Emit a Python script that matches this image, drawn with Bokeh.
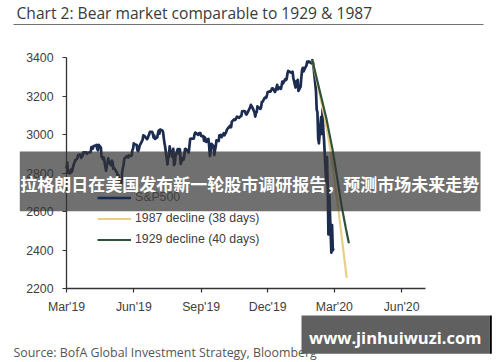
import pandas as pd
from bokeh.plotting import figure
from bokeh.models import (Range1d, FixedTicker, Legend, LegendItem, Label, BoxAnnotation,
                          DatetimeAxis, LinearAxis)
from bokeh.embed import file_html
from bokeh.resources import INLINE

# ---------------- data ----------------
title_text = "Chart 2: Bear market comparable to 1929 & 1987"
source_text = "Source: BofA Global Investment Strategy, Bloomberg"
banner_text = "拉格朗日在美国发布新一轮股市调研报告，预测市场未来走势"
watermark_text = "www.jinhuiwuzi.com"

series_names = ["S&P500", "1987 decline (38 days)", "1929 decline (40 days)"]

sp500_start = "2019-03-20"
sp500_end = "2020-03-19"
market_holidays = ["2019-04-19", "2019-05-27", "2019-07-04", "2019-09-02", "2019-11-28",
                   "2019-12-25", "2020-01-01", "2020-01-20", "2020-02-17"]
sp500_close = [
    # Mar 2019
    2824, 2855, 2801, 2798, 2818, 2805, 2815, 2834,
    # Apr
    2867, 2867, 2873, 2879, 2893, 2896, 2878, 2888, 2888, 2907, 2906, 2907, 2900, 2905,
    2908, 2934, 2927, 2926, 2940, 2943, 2946,
    # May
    2924, 2918, 2946, 2932, 2884, 2879, 2871, 2881, 2812, 2834, 2851, 2876, 2860, 2840,
    2864, 2856, 2822, 2826, 2802, 2783, 2789, 2752,
    # Jun
    2744, 2803, 2826, 2843, 2873, 2887, 2886, 2880, 2892, 2887, 2890, 2918, 2926, 2954,
    2950, 2945, 2917, 2914, 2925, 2942,
    # Jul
    2964, 2973, 2996, 2990, 2976, 2980, 2993, 3000, 3014, 3014, 3004, 2984, 2995, 2977,
    2985, 3005, 3020, 3004, 3026, 3021, 3013, 2980,
    # Aug
    2954, 2932, 2845, 2882, 2884, 2938, 2919, 2883, 2926, 2841, 2848, 2889, 2924, 2901,
    2924, 2923, 2847, 2878, 2869, 2888, 2925, 2926,
    # Sep
    2906, 2938, 2976, 2979, 2978, 2979, 3001, 3010, 3007, 2998, 3006, 3007, 3007, 2992,
    2992, 2967, 2985, 2978, 2962, 2977,
    # Oct
    2940, 2888, 2911, 2952, 2939, 2893, 2919, 2938, 2970, 2966, 2996, 2990, 2998, 2986,
    3007, 2996, 3005, 3010, 3023, 3039, 3037, 3047, 3038,
    # Nov
    3067, 3078, 3075, 3077, 3085, 3093, 3087, 3092, 3094, 3097, 3120, 3122, 3120, 3108,
    3104, 3110, 3134, 3141, 3154, 3141,
    # Dec
    3114, 3093, 3113, 3117, 3146, 3136, 3133, 3142, 3169, 3169, 3191, 3193, 3191, 3205,
    3221, 3224, 3223, 3240, 3240, 3221, 3231,
    # Jan 2020
    3258, 3235, 3246, 3237, 3253, 3275, 3265, 3288, 3283, 3289, 3317, 3330, 3321, 3322,
    3326, 3295, 3244, 3276, 3273, 3284, 3226,
    # Feb
    3249, 3298, 3335, 3346, 3328, 3352, 3358, 3379, 3374, 3380, 3370, 3386, 3373, 3338,
    3226, 3128, 3116, 2979, 2954,
    # Mar
    3090, 3003, 3130, 3024, 2972, 2747, 2882, 2741, 2481, 2711, 2386, 2529, 2398, 2409,
]

d1987_dates = ["2020-02-19", "2020-03-07", "2020-03-15", "2020-03-25", "2020-04-06"]
d1987_vals = [3386, 3087, 2915, 2629, 2255]

d1929_dates = ["2020-02-19", "2020-03-09", "2020-03-18", "2020-03-30", "2020-04-05", "2020-04-09"]
d1929_vals = [3386, 3087, 2915, 2629, 2509, 2435]

x_start, x_end = "2019-03-20", "2020-07-22"
x_tick_dates = ["2019-03-20", "2019-06-20", "2019-09-20", "2019-12-20", "2020-03-20", "2020-06-20"]
x_tick_labels = ["Mar'19", "Jun'19", "Sep'19", "Dec'19", "Mar'20", "Jun'20"]
y_ticks = [2200, 2400, 2600, 2800, 3000, 3200, 3400]
y_min, y_max = 2200, 3400

colors = ["#1c2b50", "#e9cf86", "#2e5238"]

# ---------------- layout constants (pixels) ----------------
W, H = 500, 362
PLOT_L, PLOT_R = 66.0, 424.5      # x pixels of x_start / x_end
PLOT_T, PLOT_B = 57.0, 288.0      # y pixels of y_max / y_min


def ms(d):
    return int(pd.Timestamp(d).value // 10**6)


x0, x1 = ms(x_start), ms(x_end)
kx = (x1 - x0) / (PLOT_R - PLOT_L)
ky = (y_max - y_min) / (PLOT_B - PLOT_T)
x_range = Range1d(x0 - PLOT_L * kx, x1 + (W - PLOT_R) * kx)
y_range = Range1d(y_min - (H - PLOT_B) * ky, y_max + PLOT_T * ky)

sp_dates = pd.bdate_range(sp500_start, sp500_end, freq="C", holidays=market_holidays)
n = min(len(sp_dates), len(sp500_close))
sp_dates = sp_dates[:n]
sp_vals = sp500_close[:n]

p = figure(width=W, height=H, x_range=x_range, y_range=y_range,
           x_axis_location=None, y_axis_location=None,
           output_backend="svg", toolbar_location=None, min_border=0)
p.outline_line_color = None
p.xgrid.grid_line_color = None
p.ygrid.grid_line_color = None
p.background_fill_color = "white"
p.border_fill_color = "white"

r_sp = p.line(sp_dates, sp_vals, line_color=colors[0], line_width=2.7, line_join="round")
r_87 = p.line(pd.to_datetime(d1987_dates), d1987_vals, line_color=colors[1], line_width=2.2)
r_29 = p.line(pd.to_datetime(d1929_dates), d1929_vals, line_color=colors[2], line_width=2.2)

tick_ms = [ms(d) for d in x_tick_dates]
xaxis = DatetimeAxis(ticker=FixedTicker(ticks=tick_ms), fixed_location=y_min, bounds=(x0, x1))
xaxis.major_label_overrides = {t: lab for t, lab in zip(tick_ms, x_tick_labels)}
yaxis = LinearAxis(ticker=FixedTicker(ticks=y_ticks), fixed_location=x0, bounds=(y_min, y_max))
p.add_layout(xaxis, "below")
p.add_layout(yaxis, "left")

for ax in (xaxis, yaxis):
    ax.axis_line_color = "#333333"
    ax.axis_line_width = 1.3
    ax.major_tick_line_color = "#333333"
    ax.major_tick_line_width = 1.2
    ax.major_tick_out = 4
    ax.major_tick_in = 0
    ax.minor_tick_line_color = None
    ax.major_label_text_font = "Liberation Sans"
    ax.major_label_text_font_size = "12.3px"
    ax.major_label_text_color = "#404040"
yaxis.major_label_standoff = 9
xaxis.major_label_standoff = 7

legend = Legend(items=[LegendItem(label=series_names[0], renderers=[r_sp]),
                       LegendItem(label=series_names[1], renderers=[r_87]),
                       LegendItem(label=series_names[2], renderers=[r_29])],
                location=(97, 112.5), orientation="vertical",
                glyph_width=34, glyph_height=21, label_height=21, spacing=0,
                padding=0, margin=0, label_standoff=4,
                border_line_alpha=0, background_fill_alpha=0,
                label_text_font="Liberation Sans", label_text_font_size="12.3px",
                label_text_color="#404040")
p.add_layout(legend, "center")


def sbox(left, right, bottom, top, color, alpha=1.0):
    return BoxAnnotation(left=left, right=right, bottom=bottom, top=top,
                         left_units="screen", right_units="screen",
                         bottom_units="screen", top_units="screen",
                         fill_color=color, fill_alpha=alpha, line_alpha=0)


def slabel(x, y, text, font, size, color, align="left", baseline="alphabetic", style="normal"):
    return Label(x=x, y=y, x_units="screen", y_units="screen", text=text,
                 text_font=font, text_font_size=size, text_color=color,
                 text_align=align, text_baseline=baseline, text_font_style=style)


# title and its rule
p.add_layout(slabel(16, H - 12.5, title_text, "Open Sans", "15.6px", "#3a3a3a"))
p.add_layout(sbox(13, 483, H - 24.5, H - 23.5, "#707070"))

# source note
p.add_layout(slabel(13, H - 352.0, source_text, "Open Sans", "12.4px", "#555555"))

# overlay banner
p.add_layout(sbox(19.3, 480, H - 210.7, H - 151, "#333333", 0.7))
p.add_layout(slabel(249.3, H - 183, banner_text, "Noto Sans CJK SC", "17px", "white",
                    align="center", baseline="middle", style="bold"))

# watermark box
p.add_layout(sbox(301, 489.3, H - 353.3, H - 315, "#606060"))
p.add_layout(sbox(489.3, 491.3, H - 353.3, H - 315, "#000000"))
p.add_layout(slabel(394.7, H - 336.5, watermark_text, "Open Sans", "16.5px", "white",
                    align="center", style="bold"))

open("out.html", "w").write(file_html(p, INLINE))
